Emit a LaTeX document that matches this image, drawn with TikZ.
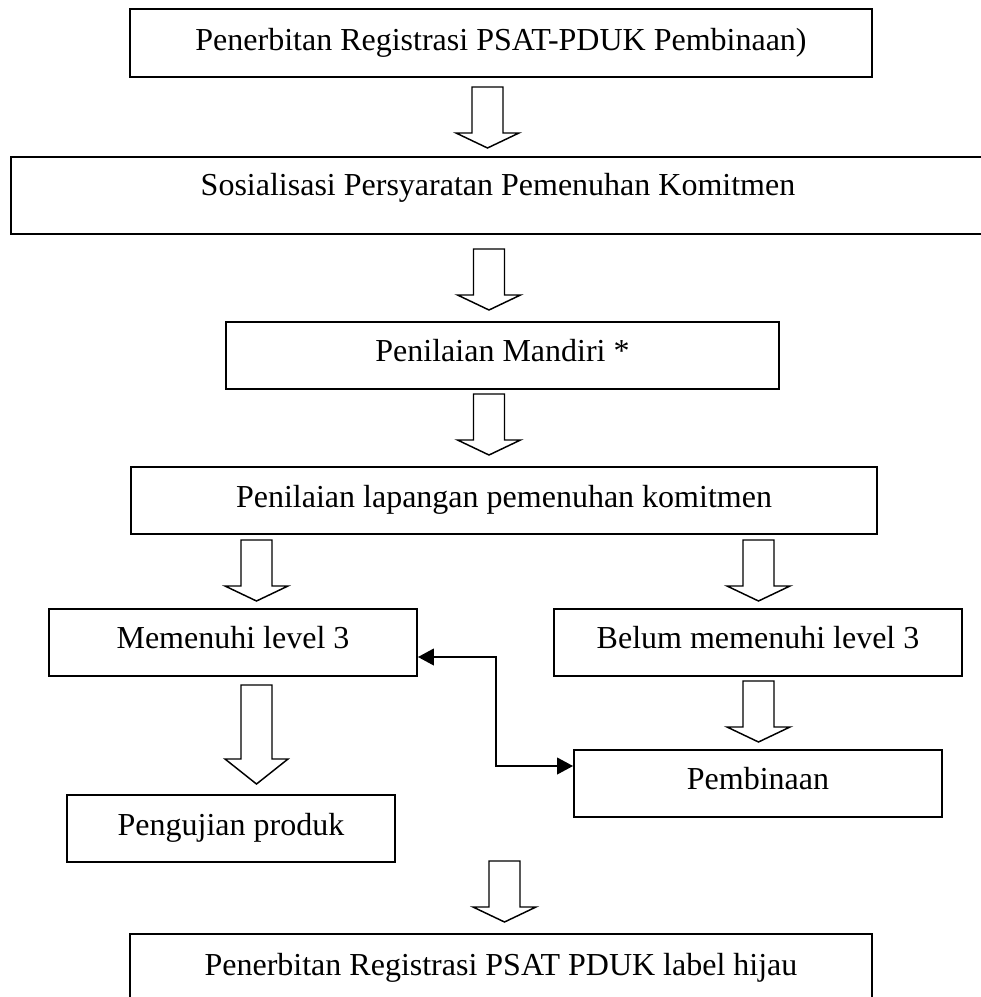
\documentclass[tikz,border=0pt]{standalone}
\usepackage{fontspec}
\setmainfont{Liberation Serif}
\usetikzlibrary{arrows.meta}
\tikzset{
  box/.style={draw, line width=1.4pt, rectangle, inner sep=0pt, align=center,
    font=\fontsize{24}{28}\selectfont, text height=10.5pt, text depth=0pt},
  blk/.style={draw, line width=1.1pt, fill=white, line join=miter},
  conn/.style={draw, line width=1.5pt, {Triangle[length=12pt,width=12.5pt]}-{Triangle[length=12pt,width=12.5pt]}}
}
\newcommand\blkarrow[4]{%
  \path[blk] ({#1-15.5},#2) -- ({#1+15.5},#2) -- ({#1+15.5},#3) -- ({#1+31.5},#3)
    -- (#1,#4) -- ({#1-31.5},#3) -- ({#1-15.5},#3) -- cycle;}
\begin{document}
\begin{tikzpicture}[x=0.75pt,y=-0.75pt]
\clip (0,0) rectangle (981,997);
\fill[white] (0,0) rectangle (981,997);

\node[box, minimum width=742*0.75pt, minimum height=68*0.75pt] (b1) at (501,43)
  {Penerbitan Registrasi PSAT-PDUK Pembinaan)};
\node[box, minimum width=974*0.75pt, minimum height=77*0.75pt, text height=0pt, text depth=0.75pt] (b2) at (498,195.5)
  {Sosialisasi Persyaratan Pemenuhan Komitmen};
\node[box, minimum width=553*0.75pt, minimum height=67*0.75pt, text height=8.25pt] (b3) at (502.5,355.5)
  {Penilaian Mandiri *};
\node[box, minimum width=746*0.75pt, minimum height=67*0.75pt, text height=9.75pt] (b4) at (504,500.5)
  {Penilaian lapangan pemenuhan komitmen};
\node[box, minimum width=368*0.75pt, minimum height=67*0.75pt, text height=8.25pt] (b5) at (233,642.5)
  {Memenuhi level 3};
\node[box, minimum width=408*0.75pt, minimum height=67*0.75pt, text height=8.25pt] (b7) at (758,642.5)
  {Belum memenuhi level 3};
\node[box, minimum width=368*0.75pt, minimum height=67*0.75pt, text height=8.25pt] (b8) at (758,783.5)
  {Pembinaan};
\node[box, minimum width=328*0.75pt, minimum height=67*0.75pt, text height=9.75pt] (b6) at (231,828.5)
  {Pengujian produk};
\node[box, minimum width=742*0.75pt, minimum height=67*0.75pt, text height=11.25pt] (b9) at (501,967.5)
  {Penerbitan Registrasi PSAT PDUK label hijau};

\blkarrow{487.5}{87}{133}{148}
\blkarrow{489}{249}{295}{310}
\blkarrow{489}{394}{440}{455}
\blkarrow{256.5}{540}{586}{601}
\blkarrow{758.5}{540}{586}{601}
\blkarrow{256.5}{685}{759}{784}
\blkarrow{758.5}{681}{727}{742}
\blkarrow{504.5}{861}{907}{922}

\coordinate (j1) at (496,657);
\coordinate (j2) at (496,766);
\draw[conn] (b5.east |- j1) -- (j1) -- (j2) -- (b8.west |- j2);
\end{tikzpicture}
\end{document}
